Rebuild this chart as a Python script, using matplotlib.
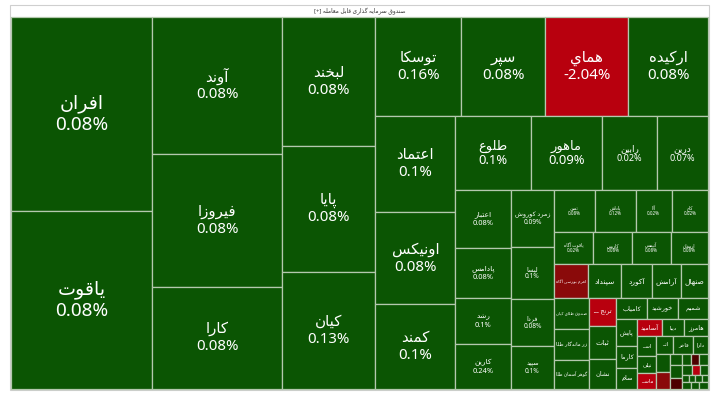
import matplotlib
matplotlib.use("Agg")
import matplotlib.pyplot as plt
from matplotlib.patches import Rectangle

#---------------------------------------------------------------- donnees ----------------------------------------------------------------#
title = "صندوق سرمایه گذاری قابل معامله"

names = ["افران", "یاقوت",
         "آوند", "فیروزا", "کارا",
         "لبخند", "پایا", "کیان",
         "توسکا", "سپر", "هماي", "ارکیده",
         "اعتماد", "اونیکس", "کمند",
         "طلوع", "ماهور", "رابین", "درین",
         "اعتبار", "پادامس", "رشد", "کارین",
         "زمرد کوروش", "لیسا", "فردا", "سپید",
         "ثمین", "پاداش", "آلا", "کاج",
         "یاقوت آگاه", "کاریس", "آتیمس", "ارمغان",
         "اهرم بورسی آگاه", "سپنداد", "آکورد", "آرامش", "صنهال",
         "صندوق طلای کیان", "زر ماندگار طلا", "گوهر آسمان طلا",
         "ترنج ـــ", "ثبات", "نشان",
         "کامیاب", "خورشید", "شمیم",
         "پایش", "کارما", "سام",
         "آسامید", "دیبا", "هامرز",
         "اســ", "نیلی", "ماســ",
         "اتــ", "فاخر", "دارا",
         "آذر", "بهار",
         "مهر", "ماه", "سحر",
         "نگار", "آرین", "رز",
         "نور", "تاک", "کوثر",
         "سینا", "گلها", "پارس", "مانا",
         "ژیوار", "آتی", "نیک"]

values = [274, 251,
          178, 173, 133,
          120, 117, 109,
          85, 83, 82, 79,
          77, 74, 68,
          56, 53, 41, 38,
          32, 28, 26, 25,
          24, 22, 20, 18,
          17, 17, 15, 15,
          13, 12.6, 12.5, 12.2,
          11.8, 11, 10.5, 10, 9,
          11, 11, 10.5,
          7.5, 9, 8,
          6.5, 6.5, 6.3,
          5.7, 4.6, 4.4,
          4.2, 3.7, 4.1,
          3.8, 3.2, 3.0,
          2.9, 3.4, 2.6,
          2.5, 2.3,
          1.4, 1.6, 1.4,
          1.0, 1.0, 1.0,
          0.9, 0.8, 0.8,
          0.45, 0.45, 0.45, 0.45,
          0.6, 0.6, 0.6]

changes = [0.08, 0.08,
           0.08, 0.08, 0.08,
           0.08, 0.08, 0.13,
           0.16, 0.08, -2.04, 0.08,
           0.1, 0.08, 0.1,
           0.1, 0.09, 0.02, 0.07,
           0.08, 0.08, 0.1, 0.24,
           0.09, 0.1, 0.08, 0.1,
           0.08, 0.12, 0.02, 0.02,
           0.02, 0.08, 0.08, 0.08,
           -3.1, 0.05, 0.05, 0.05, 0.05,
           0.05, 0.05, 0.05,
           -1.5, 0.05, 0.05,
           0.05, 0.05, 0.05,
           0.05, 0.05, 0.05,
           -1.2, 0.05, 0.05,
           0.05, 0.05, -1.8,
           0.05, 0.05, 0.05,
           0.05, -3.2,
           0.05, 0.05, -4.5,
           0.05, -4.5, 0.05,
           0.05, -1.5, 0.05,
           0.05, 0.05, 0.05, 0.05,
           0.05, 0.05, 0.05]

# bandes du treemap : (nombre d'elements, 'v' = colonne, 'h' = ligne)
strips = [(2, 'v'), (3, 'v'), (3, 'v'), (4, 'h'), (3, 'v'), (4, 'h'), (4, 'v'), (4, 'v'),
          (4, 'h'), (4, 'h'), (5, 'h'), (3, 'v'), (3, 'v'), (3, 'h'), (3, 'v'), (3, 'h'),
          (3, 'v'), (3, 'h'), (2, 'v'), (3, 'v'), (3, 'h'), (3, 'h'), (4, 'h'), (3, 'h')]


#---------------------------------------------------------------- fonctions ----------------------------------------------------------------#
# formes de presentation arabes (isole, final, initial, median)
FORMS = {}
for c, start, dual in [('ب', 0xFE8F, True), ('ت', 0xFE95, True), ('ث', 0xFE99, True), ('ج', 0xFE9D, True),
                       ('ح', 0xFEA1, True), ('خ', 0xFEA5, True), ('د', 0xFEA9, False), ('ذ', 0xFEAB, False),
                       ('ر', 0xFEAD, False), ('ز', 0xFEAF, False), ('س', 0xFEB1, True), ('ش', 0xFEB5, True),
                       ('ص', 0xFEB9, True), ('ض', 0xFEBD, True), ('ط', 0xFEC1, True), ('ظ', 0xFEC5, True),
                       ('ع', 0xFEC9, True), ('غ', 0xFECD, True), ('ف', 0xFED1, True), ('ق', 0xFED5, True),
                       ('ل', 0xFEDD, True), ('م', 0xFEE1, True), ('ن', 0xFEE5, True), ('ه', 0xFEE9, True),
                       ('و', 0xFEED, False), ('ي', 0xFEF1, True), ('ا', 0xFE8D, False), ('آ', 0xFE81, False),
                       ('پ', 0xFB56, True), ('چ', 0xFB7A, True), ('ژ', 0xFB8A, False), ('ک', 0xFB8E, True),
                       ('گ', 0xFB92, True), ('ی', 0xFBFC, True)]:
    if dual:
        FORMS[c] = (start, start + 1, start + 2, start + 3)
    else:
        FORMS[c] = (start, start + 1, None, None)
FORMS['ـ'] = (0x640, 0x640, 0x640, 0x640)


def shape(s):
    out = []
    for i, c in enumerate(s):
        if c not in FORMS:
            out.append(c)
            continue
        f = FORMS[c]
        prev = s[i - 1] if i > 0 else None
        nxt = s[i + 1] if i < len(s) - 1 else None
        jp = prev in FORMS and FORMS[prev][2] is not None
        jn = f[2] is not None and nxt in FORMS
        if jp and jn:
            g = f[3]
        elif jp:
            g = f[1]
        elif jn:
            g = f[2]
        else:
            g = f[0]
        out.append(chr(g))
    return ''.join(reversed(out))


def layout(vals, strips, x, y, w, h):
    rects = []
    i = 0
    rest = sum(vals)
    for n, orient in strips:
        grp = vals[i:i + n]
        s = sum(grp)
        if orient == 'v':
            cw = w * s / rest
            yy = y
            for v in grp:
                rects.append((x, yy, cw, h * v / s))
                yy += h * v / s
            x += cw
            w -= cw
        else:
            rh = h * s / rest
            xx = x
            for v in grp:
                rects.append((xx, y, w * v / s, rh))
                xx += w * v / s
            y += rh
            h -= rh
        rest -= s
        i += n
    return rects


def couleur(ch):
    if ch >= 0:
        return "#0b5503"
    if ch > -2.5:
        return "#b8000e"
    if ch > -4:
        return "#8a0a0a"
    return "#4d0000"


def taille(v):
    # taille max du texte en pixels
    if v >= 240: return 19
    if v >= 60: return 15
    if v >= 50: return 13
    if v >= 36: return 9
    if v >= 25: return 7.5
    if v >= 18: return 6.5
    if v >= 12: return 4.5
    if v >= 9: return 7.5
    if v >= 4: return 6.5
    if v >= 2.55: return 5.5
    return 0


#---------------------------------------------------------------- figure ----------------------------------------------------------------#
fig = plt.figure(figsize=(7.2, 3.98), dpi=100)
ax = fig.add_axes([0, 0, 1, 1])
ax.set_xlim(0, 720)
ax.set_ylim(398, 0)
ax.axis('off')

FAM = ['Noto Sans', 'DejaVu Sans']

# cadre + barre de titre
ax.add_patch(Rectangle((10, 5), 699, 385, facecolor='white', edgecolor='#cfcfcf', linewidth=0.8))
ax.text(359.5, 11, "[+] " + shape(title), ha='center', va='center', fontsize=4.2,
        color='#333333', family=FAM)

rects = layout(values, strips, 11, 17, 697, 372)

labels = []
for (x, y, w, h), nm, v, ch in zip(rects, names, values, changes):
    ax.add_patch(Rectangle((x, y), w, h, facecolor=couleur(ch), edgecolor='#b4c8ae', linewidth=0.9))
    fs = taille(v)
    if fs == 0:
        continue
    lines = [shape(nm)]
    if v >= 12:
        lines.append(f"{ch:g}%")
    txts = [ax.text(x + w / 2, y + h / 2, t, ha='center', va='center', color='white',
                    fontsize=fs * 0.72, family=FAM) for t in lines]
    labels.append((x, y, w, h, fs, txts))

# ajuster la taille du texte a la largeur des cases
r = fig.canvas.get_renderer()
for x, y, w, h, fs, txts in labels:
    wmax = max(t.get_window_extent(r).width for t in txts)
    if wmax > 0.88 * w:
        fs = fs * 0.88 * w / wmax
    for t in txts:
        t.set_fontsize(fs * 0.72)
    if len(txts) == 2:
        txts[0].set_y(y + h / 2 - 0.55 * fs)
        txts[1].set_y(y + h / 2 + 0.6 * fs)

plt.savefig("out.png", dpi=100)
